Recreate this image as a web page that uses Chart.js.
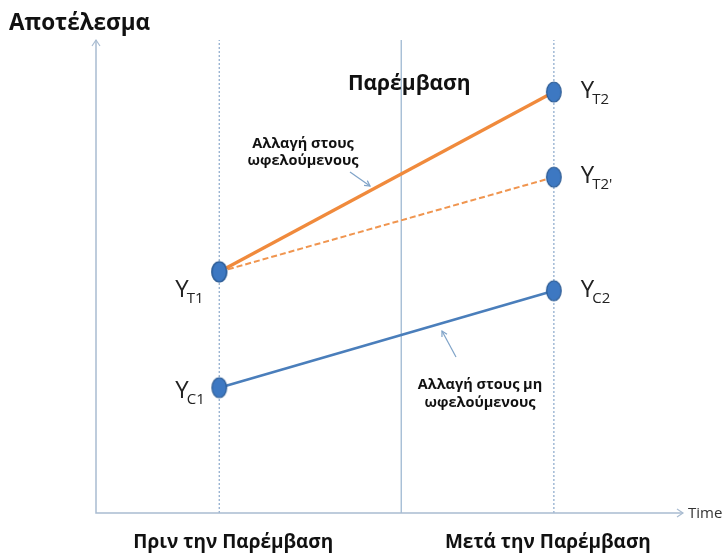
<!DOCTYPE html>
<html>
<head>
<meta charset="utf-8">
<script src="https://cdn.jsdelivr.net/npm/chart.js@4/dist/chart.umd.min.js"></script>
<style>
html,body{margin:0;padding:0;background:#fff;}
#wrap{width:727px;height:554px;}
</style>
</head>
<body>
<div id="wrap"><canvas id="c" width="727" height="554"></canvas></div>
<script>
// ---- data ----
const periods = ['Πριν την Παρέμβαση', 'Μετά την Παρέμβαση'];
const periodX = [21, 78];          // position on time axis (0-100)
const interventionX = [52];        // intervention line
const treated = [51, 89];          // Y_T1 -> Y_T2
const counterfactual = [51, 71];   // Y_T1 -> Y_T2'
const control = [26.5, 47];        // Y_C1 -> Y_C2
const pointLabels = [
  {x: 21, y: 51,   main: 'Y', sub: 'T1', side: 'left'},
  {x: 21, y: 26.5, main: 'Y', sub: 'C1', side: 'left'},
  {x: 78, y: 89,   main: 'Y', sub: 'T2', side: 'right'},
  {x: 78, y: 71,   main: 'Y', sub: "T2'", side: 'right'},
  {x: 78, y: 47,   main: 'Y', sub: 'C2', side: 'right'}
];
const yTitle = 'Αποτέλεσμα';
const xTitle = 'Time';
const interventionLabel = 'Παρέμβαση';
const noteTreated = ['Αλλαγή στους', 'ωφελούμενους'];
const noteControl = ['Αλλαγή στους μη', 'ωφελούμενους'];

// ellipse marker
function makeMarker(){
  const c = document.createElement('canvas');
  c.width = 18; c.height = 24;
  const g = c.getContext('2d');
  g.beginPath();
  g.ellipse(9, 12, 7.3, 10, 0, 0, Math.PI*2);
  g.fillStyle = '#3D78C2';
  g.fill();
  g.lineWidth = 1.2;
  g.strokeStyle = '#2B5A93';
  g.stroke();
  return c;
}
const marker = makeMarker();

const pts = (ys) => periodX.map((x,i)=>({x:x, y:ys[i]}));

const vline = (x, dash, color) => ({
  data: [{x:x,y:0},{x:x,y:100}],
  borderColor: color,
  borderWidth: 1.3,
  borderDash: dash,
  pointRadius: 0,
  order: 10
});

const overlay = {
  id: 'overlay',
  afterDatasetsDraw(chart){
    const ctx = chart.ctx;
    const xs = chart.scales.x, ys = chart.scales.y;
    const a = chart.chartArea;
    ctx.save();
    // axes
    ctx.strokeStyle = '#A9BCD1';
    ctx.lineWidth = 1.5;
    ctx.beginPath();
    ctx.moveTo(a.left, a.top);
    ctx.lineTo(a.left, a.bottom);
    ctx.lineTo(a.right, a.bottom);
    ctx.stroke();
    // arrow heads
    ctx.lineWidth = 1.2;
    ctx.beginPath();
    ctx.moveTo(a.left-4, a.top+6); ctx.lineTo(a.left, a.top); ctx.lineTo(a.left+4, a.top+6);
    ctx.moveTo(a.right-6, a.bottom-4); ctx.lineTo(a.right, a.bottom); ctx.lineTo(a.right-6, a.bottom+4);
    ctx.stroke();

    ctx.fillStyle = '#111';
    ctx.textBaseline = 'alphabetic';
    // y title
    ctx.font = 'bold 22.5px "Open Sans"';
    ctx.textAlign = 'left';
    ctx.fillText(yTitle, 9, 30);
    // x title
    ctx.font = '15px "Open Sans"';
    ctx.fillStyle = '#333';
    ctx.fillText(xTitle, a.right + 5, a.bottom + 5);
    // intervention label
    ctx.fillStyle = '#111';
    ctx.font = 'bold 21px "Open Sans"';
    ctx.textAlign = 'center';
    ctx.fillText(interventionLabel, xs.getPixelForValue(interventionX[0]) + 8, 90);
    // period labels
    ctx.font = 'bold 19px "Open Sans"';
    periods.forEach((p,i)=>{
      ctx.fillText(p, xs.getPixelForValue(periodX[i]) + (i===0?14:-6), 548);
    });
    // point labels
    pointLabels.forEach(l=>{
      const px = xs.getPixelForValue(l.x), py = ys.getPixelForValue(l.y);
      ctx.font = '24px "Open Sans"';
      const wMain = ctx.measureText(l.main).width;
      let x0;
      if (l.side === 'left') x0 = px - 44; else x0 = px + 27;
      let baseY = l.side === 'left' ? py + 25 : py + 6;
      if (l.sub === 'C1') baseY = py + 10;
      ctx.textAlign = 'left';
      ctx.fillStyle = '#222';
      ctx.fillText(l.main, x0, baseY);
      ctx.font = '15px "Open Sans"';
      ctx.fillText(l.sub, x0 + wMain - 2, baseY + 6);
    });
    // notes
    ctx.font = 'bold 14.5px "Open Sans"';
    ctx.fillStyle = '#111';
    ctx.textAlign = 'center';
    noteTreated.forEach((t,i)=> ctx.fillText(t, 303, 148 + i*17));
    noteControl.forEach((t,i)=> ctx.fillText(t, 480, 389 + i*18));
    // note arrows
    ctx.strokeStyle = '#7FA3C8';
    ctx.lineWidth = 1.2;
    const arrow = (x1,y1,x2,y2)=>{
      ctx.beginPath(); ctx.moveTo(x1,y1); ctx.lineTo(x2,y2); ctx.stroke();
      const ang = Math.atan2(y2-y1, x2-x1);
      ctx.beginPath();
      ctx.moveTo(x2 - 6*Math.cos(ang-0.5), y2 - 6*Math.sin(ang-0.5));
      ctx.lineTo(x2, y2);
      ctx.lineTo(x2 - 6*Math.cos(ang+0.5), y2 - 6*Math.sin(ang+0.5));
      ctx.stroke();
    };
    arrow(350, 172, 370, 186);
    arrow(456, 357, 442, 331);
    ctx.restore();
  }
};

new Chart(document.getElementById('c'), {
  type: 'line',
  data: {
    datasets: [
      vline(periodX[0], [2,2], '#93AFCF'),
      vline(interventionX[0], [], '#9FB8D2'),
      vline(periodX[1], [2,2], '#93AFCF'),
      {
        data: pts(counterfactual),
        borderColor: '#F0954F',
        borderWidth: 2,
        borderDash: [6,3],
        pointStyle: marker,
        pointRadius: 9,
        order: 3
      },
      {
        data: pts(treated),
        borderColor: '#F08A3C',
        borderWidth: 3.2,
        pointStyle: marker,
        pointRadius: 9,
        order: 2
      },
      {
        data: pts(control),
        borderColor: '#4A7EBB',
        borderWidth: 2.6,
        pointStyle: marker,
        pointRadius: 9,
        order: 1
      }
    ]
  },
  options: {
    responsive: false,
    animation: false,
    events: [],
    layout: {padding: {left: 96, top: 40, right: 44, bottom: 41}},
    plugins: {legend: {display: false}, tooltip: {enabled: false}},
    scales: {
      x: {type: 'linear', min: 0, max: 100, display: false},
      y: {type: 'linear', min: 0, max: 100, display: false}
    },
    elements: {line: {tension: 0}}
  },
  plugins: [overlay]
});
</script>
</body>
</html>
